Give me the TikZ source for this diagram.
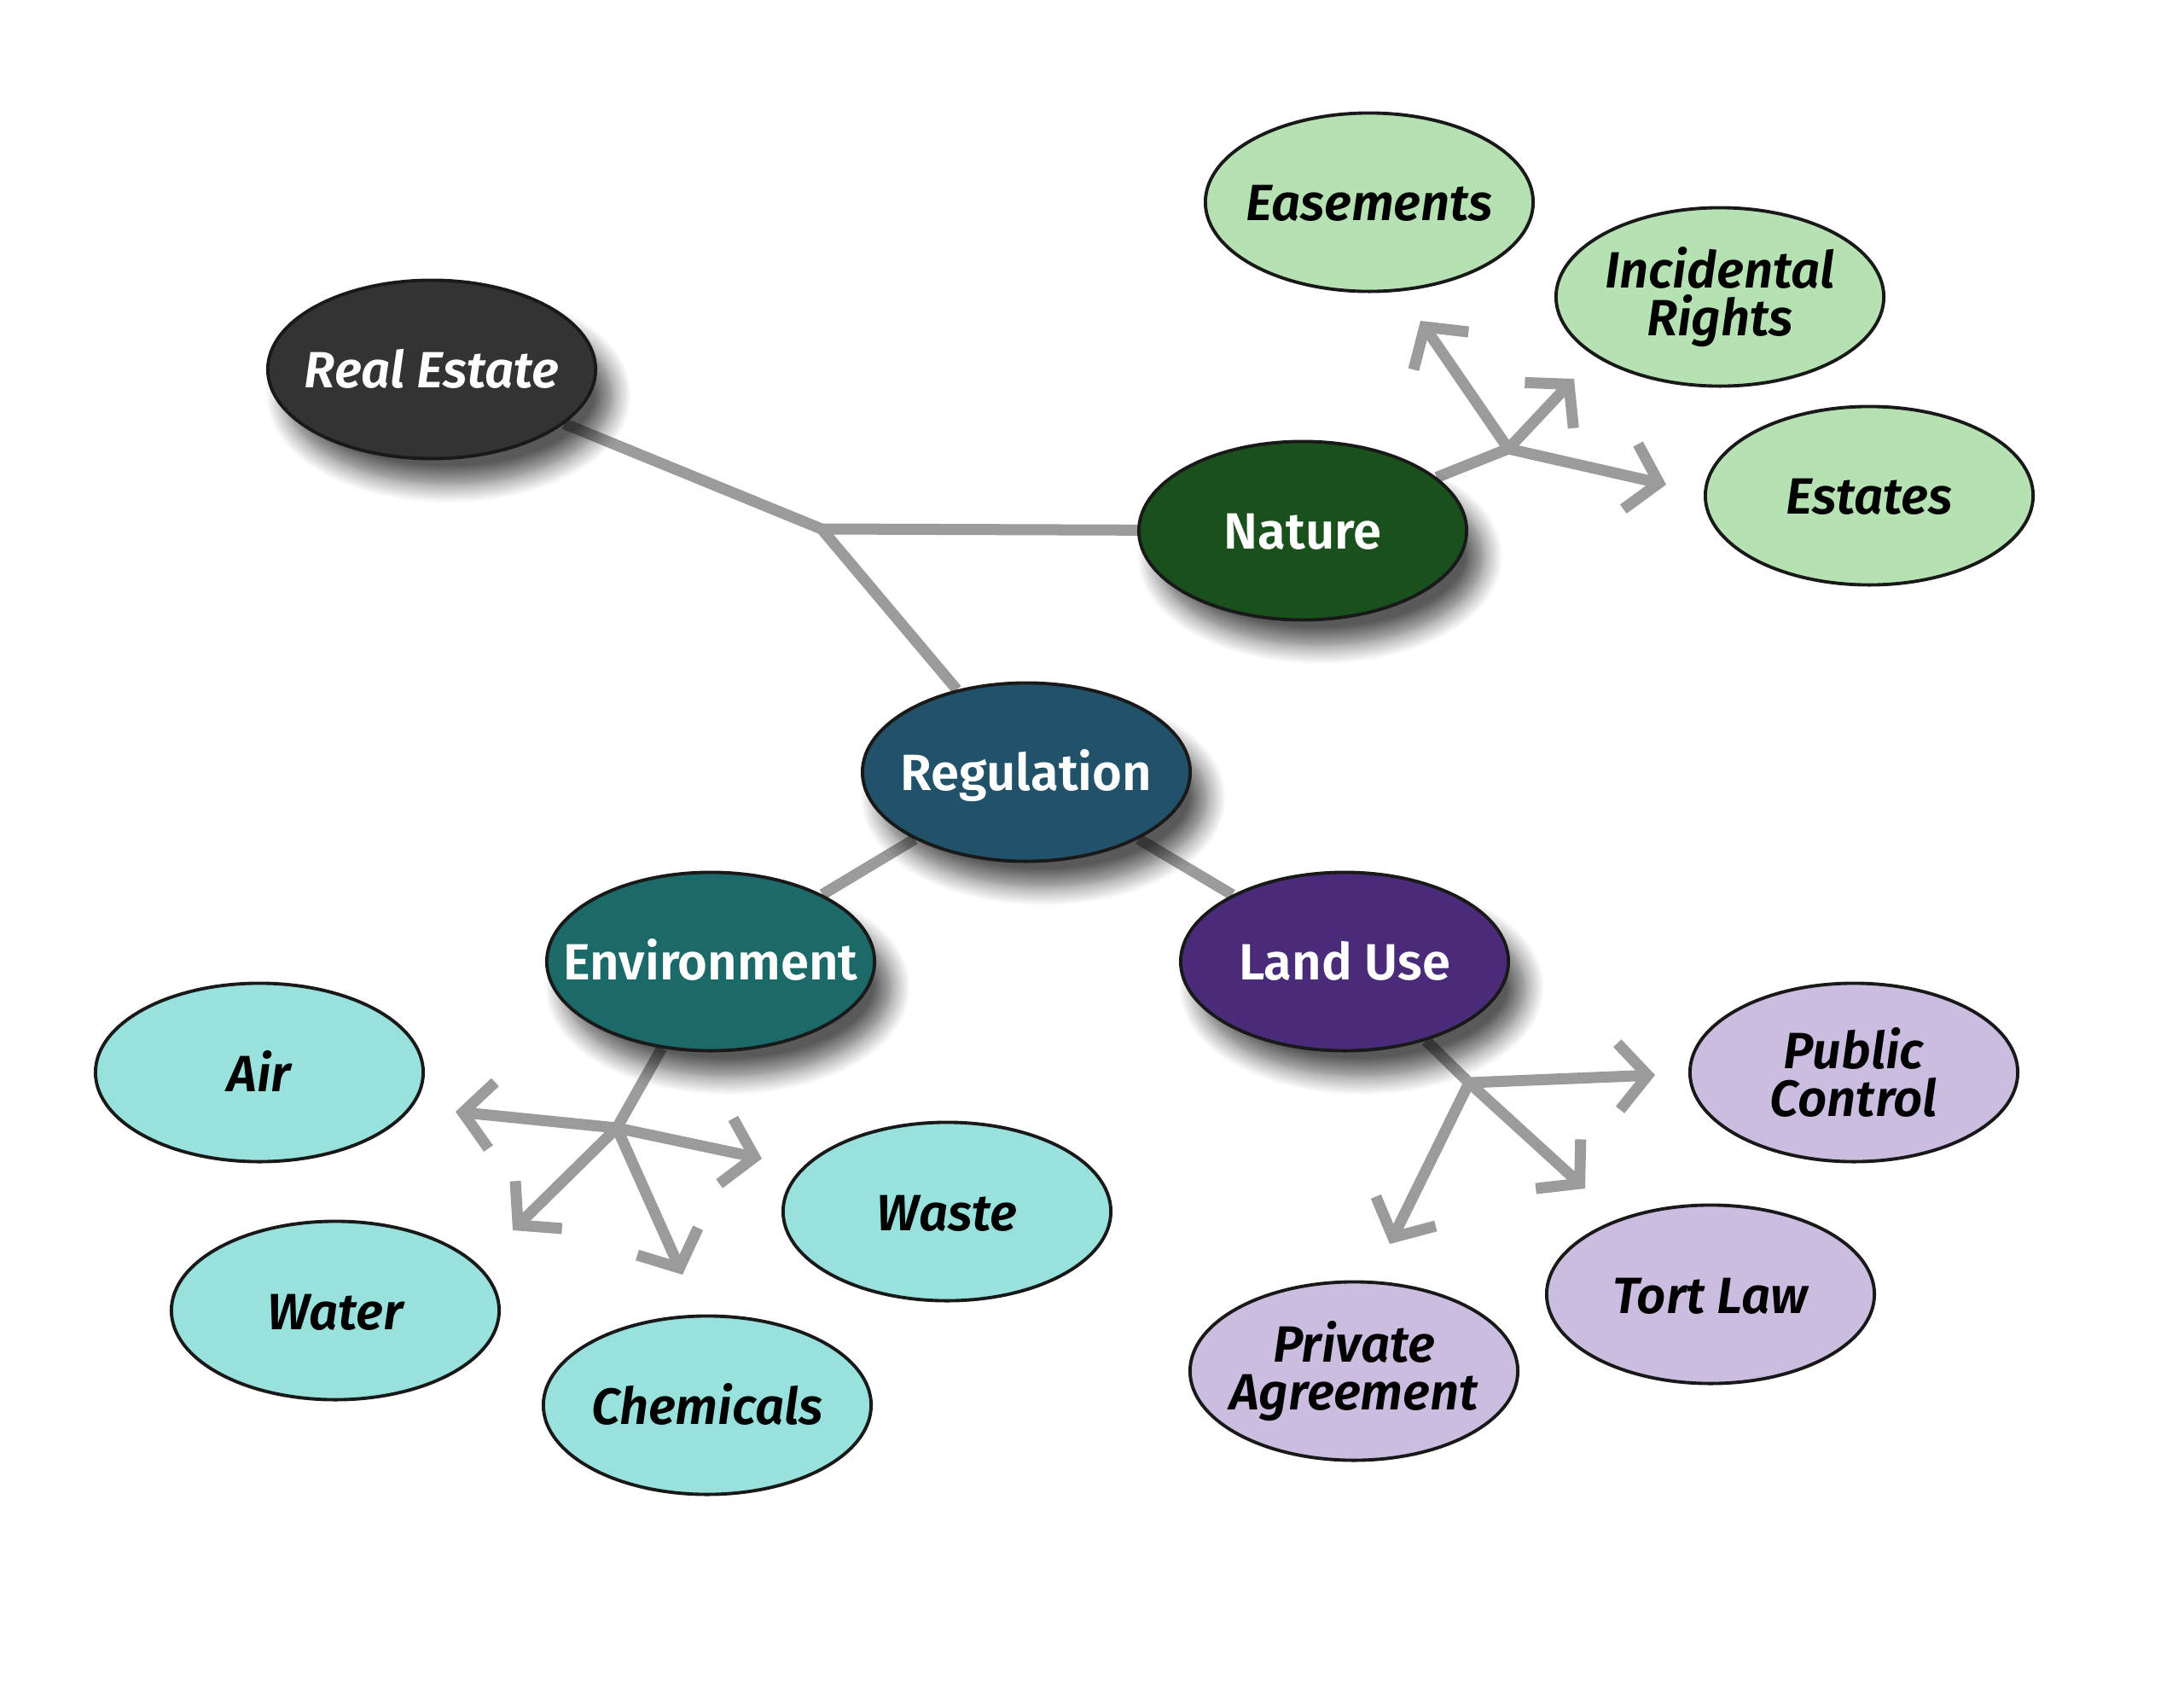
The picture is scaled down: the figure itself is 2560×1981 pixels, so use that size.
\documentclass[tikz,border=0pt]{standalone}
\usepackage{fontspec}
\setmainfont{Fira Sans}[BoldFont={Fira Sans SemiBold},BoldItalicFont={Fira Sans SemiBold Italic}]
\usetikzlibrary{shapes.geometric,arrows.meta,shadows.blur,backgrounds}
\definecolor{linegray}{HTML}{9B9B9B}
\definecolor{cRE}{HTML}{333333}
\definecolor{cNat}{HTML}{1A501C}
\definecolor{cReg}{HTML}{21526A}
\definecolor{cEnv}{HTML}{1B6968}
\definecolor{cLU}{HTML}{4A2B79}
\definecolor{lGreen}{HTML}{B6E2B3}
\definecolor{lCyan}{HTML}{98E1DD}
\definecolor{lPurple}{HTML}{CBBDE0}
\newcommand\zw[1]{\hbox to 0pt{\hss#1\hss}}
\tikzset{
  bubble/.style={ellipse, draw=black!90, line width=1.1pt, minimum width=3.84cm, minimum height=2.09cm, inner sep=0pt, align=center, font=\fontsize{17}{16}\selectfont\bfseries},
  hubnode/.style={bubble, text=white, blur shadow={shadow xshift=0.2cm, shadow yshift=-0.3cm, shadow blur radius=0.22cm, shadow opacity=65, shadow blur steps=14}},
  leaf/.style={bubble, text=black, font=\fontsize{17}{16}\selectfont\bfseries\itshape},
  oneline/.style={text height=12.5pt, text depth=0pt},
  link/.style={draw=linegray, line width=0.13cm},
  arr/.style={link, -{Straight Barb[sharp, length=0.34cm, width=0.78cm]}}
}
\begin{document}
\begin{tikzpicture}[x=0.01cm, y=-0.01cm]
\useasboundingbox (0,0) rectangle (2560,1981);
% main nodes
\node[hubnode, oneline, fill=cRE, font=\fontsize{17}{16}\selectfont\bfseries\itshape] (re) at (506,433) {\zw{Real Estate}};
\node[hubnode, oneline, fill=cNat] (nat) at (1527,622) {\zw{Nature}};
\node[hubnode, oneline, fill=cReg] (reg) at (1203,905) {\zw{Regulation}};
\node[hubnode, oneline, fill=cEnv] (env) at (833,1127) {\zw{Environment}};
\node[hubnode, oneline, fill=cLU] (lu) at (1576,1127) {\zw{Land Use}};
% leaves
\node[leaf, oneline, fill=lGreen] (eas) at (1605,237) {\zw{Easements}};
\node[leaf, fill=lGreen] (inc) at (2016,348) {\zw{Incidental}\\\zw{Rights}};
\node[leaf, oneline, fill=lGreen] (est) at (2191,581) {\zw{Estates}};
\node[leaf, oneline, fill=lCyan] (air) at (304,1257) {\zw{Air}};
\node[leaf, oneline, fill=lCyan] (wat) at (393,1536) {\zw{Water}};
\node[leaf, oneline, fill=lCyan] (che) at (829,1647) {\zw{Chemicals}};
\node[leaf, oneline, fill=lCyan] (was) at (1110,1420) {\zw{Waste}};
\node[leaf, fill=lPurple] (pub) at (2173,1257) {\zw{Public}\\\zw{Control}};
\node[leaf, oneline, fill=lPurple] (tor) at (2005,1517) {\zw{Tort Law}};
\node[leaf, fill=lPurple] (pri) at (1587,1607) {\zw{Private}\\\zw{Agreement}};
% junctions and free arrow ends
\coordinate (j1) at (963,620);
\coordinate (hn) at (1768,526);
\coordinate (he) at (723,1322);
\coordinate (hl) at (1722,1269);
\coordinate (tEas) at (1665,376);
\coordinate (tInc) at (1845,444);
\coordinate (tEst) at (1953,568);
\coordinate (tAir) at (534,1303);
\coordinate (tWas) at (893,1358);
\coordinate (tWat) at (601,1442);
\coordinate (tChe) at (800,1494);
\coordinate (tPub) at (1940,1260);
\coordinate (tTor) at (1858,1393);
\coordinate (tPri) at (1629,1458);
\begin{scope}[on background layer]
\draw[link] (re) -- (j1);
\draw[link] (j1) -- (nat);
\draw[link] (j1) -- (reg);
\draw[link] (reg) -- (env);
\draw[link] (reg) -- (lu);
\draw[link] (nat) -- (hn);
\draw[link] (env) -- (he);
\draw[link] (lu) -- (hl);
\draw[arr] (hn) -- (tEas);
\draw[arr] (hn) -- (tInc);
\draw[arr] (hn) -- (tEst);
\draw[arr] (he) -- (tAir);
\draw[arr] (he) -- (tWas);
\draw[arr] (he) -- (tWat);
\draw[arr] (he) -- (tChe);
\draw[arr] (hl) -- (tPub);
\draw[arr] (hl) -- (tTor);
\draw[arr] (hl) -- (tPri);
\end{scope}
\end{tikzpicture}
\end{document}
